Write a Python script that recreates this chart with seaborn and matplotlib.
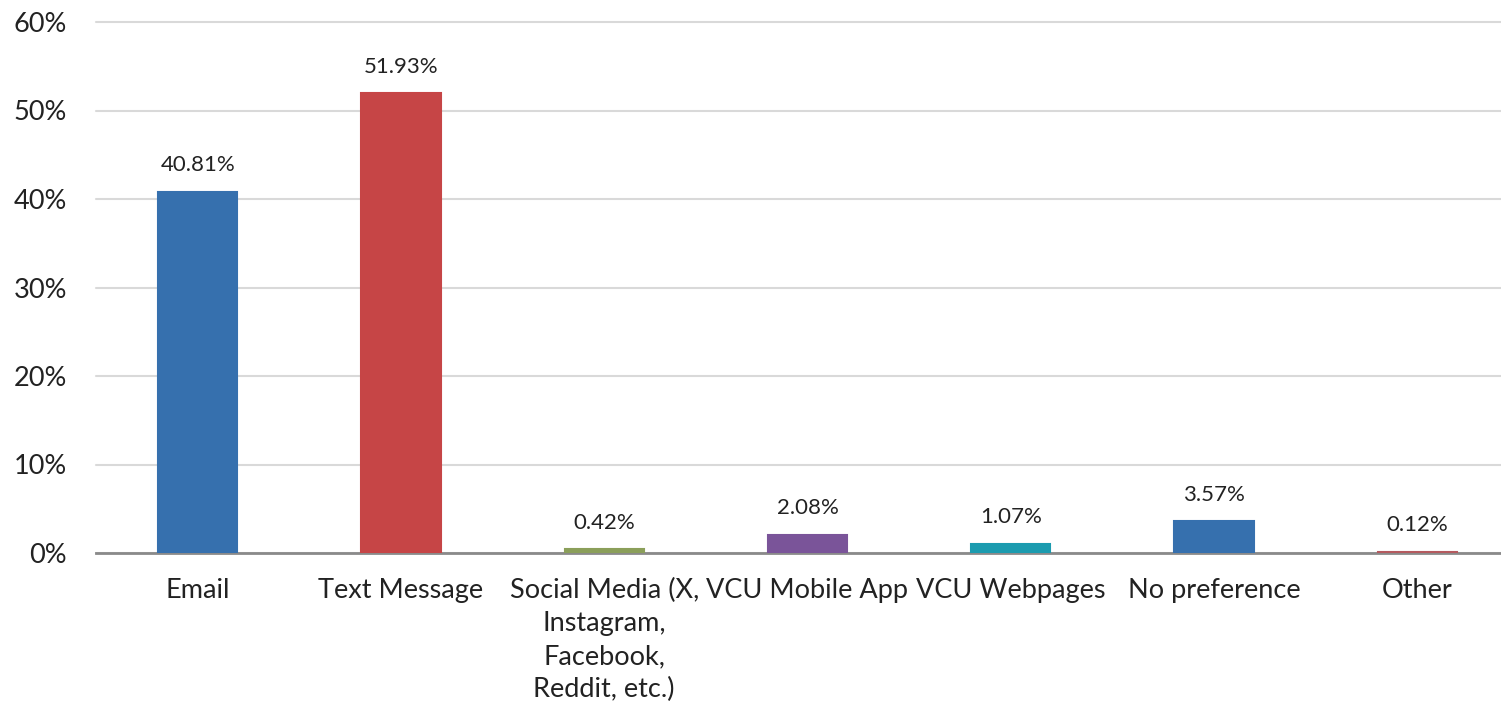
import matplotlib
matplotlib.use("Agg")
import matplotlib.pyplot as plt
import seaborn as sns
import pandas as pd

categories = [
    "Email",
    "Text Message",
    "Social Media (X,\nInstagram,\nFacebook,\nReddit, etc.)",
    "VCU Mobile App",
    "VCU Webpages",
    "No preference",
    "Other",
]
shares = [40.81, 51.93, 0.42, 2.08, 1.07, 3.57, 0.12]
bar_colors = ["#3670AE", "#C64546", "#8B9F5A", "#7A5499", "#1B9BAF", "#3670AE", "#B55A5F"]
y_ticks = [0, 10, 20, 30, 40, 50, 60]

sns.set_theme(style="white")
plt.rcParams["font.family"] = ["Lato", "DejaVu Sans"]

df = pd.DataFrame({"channel": categories, "share": shares})

fig = plt.figure(figsize=(15.01, 7.14), dpi=100)
ax = fig.add_axes([96 / 1501, 161 / 714, 1423 / 1501, 531 / 714])

sns.barplot(data=df, x="channel", y="share", hue="channel",
            palette=bar_colors, width=0.39, legend=False, ax=ax,
            saturation=1, zorder=3)

# outline each bar in its own colour so the thinnest ones stay visible
for patch in ax.patches:
    patch.set_edgecolor(patch.get_facecolor())
    patch.set_linewidth(1.5)

ax.set_ylim(0, 60)
ax.set_xlim(-0.5, 6.5)
ax.set_yticks(y_ticks)
ax.set_yticklabels([f"{t}%" for t in y_ticks], fontsize=19.5, color="#222222")
ax.tick_params(axis="y", length=0, pad=21)
ax.tick_params(axis="x", length=0, pad=18, labelsize=19.5, labelcolor="#222222")
for lbl in ax.get_xticklabels():
    lbl.set_linespacing(1.4)
    lbl.set_verticalalignment("top")
ax.set_xlabel("")
ax.set_ylabel("")

ax.grid(axis="y", color="#D9D9D9", linewidth=1.5, zorder=0)
for gl in ax.get_ygridlines():
    gl.set_clip_on(False)
for side in ["top", "right", "left"]:
    ax.spines[side].set_visible(False)
ax.spines["bottom"].set_color("#8A8A8A")
ax.spines["bottom"].set_linewidth(2)
ax.spines["bottom"].set_zorder(2.5)

for container in ax.containers:
    ax.bar_label(container, fmt="%.2f%%", padding=12, fontsize=16, color="#222222")

fig.savefig("out.png", dpi=100)
